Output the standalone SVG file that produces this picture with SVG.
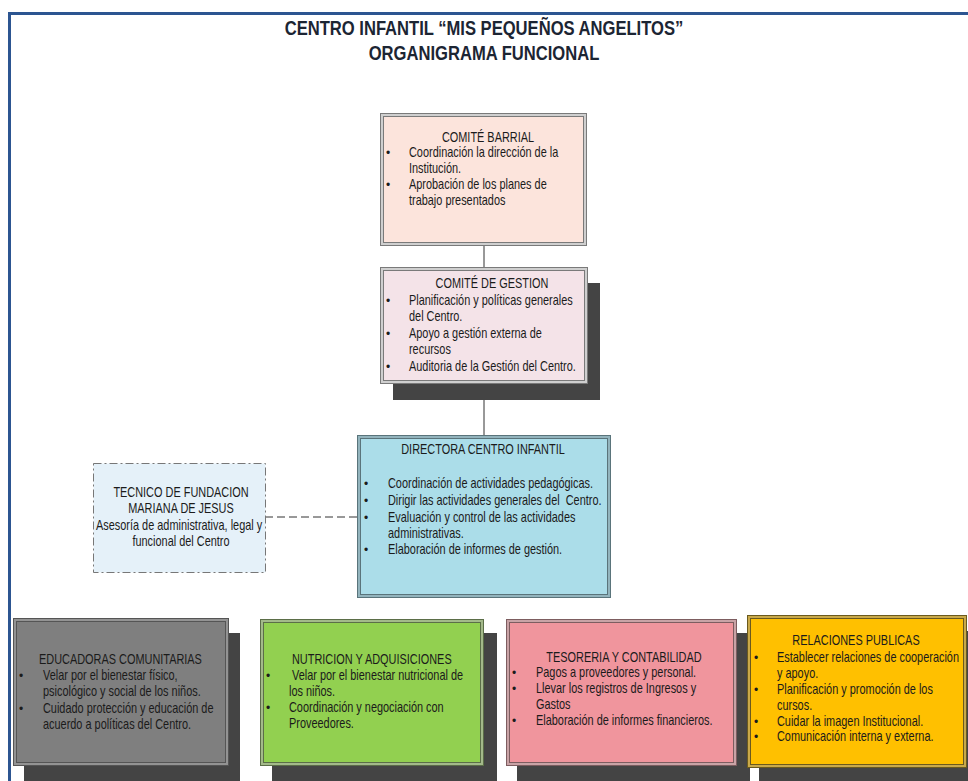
<svg xmlns="http://www.w3.org/2000/svg" width="968" height="781" viewBox="0 0 968 781">
<style>
.t{font-family:"Liberation Sans",Arial,sans-serif;font-size:14px;fill:#1b1b1b;transform-box:fill-box;transform-origin:0 50%;transform:scaleX(0.78)}
.m{text-anchor:middle;transform-origin:50% 50%}
.b{font-family:"Liberation Sans",Arial,sans-serif;font-size:12px;fill:#1b1b1b}
.h{font-family:"Liberation Sans",Arial,sans-serif;font-size:20px;font-weight:bold;fill:#1c2533;text-anchor:middle;transform-box:fill-box;transform-origin:50% 50%;transform:scaleX(0.83)}
.sh{fill:#444444}
.conn{stroke:#333;stroke-width:1;fill:none}
</style>
<rect width="968" height="781" fill="#ffffff"/>
<g id="frame">
<line x1="9.5" y1="13.5" x2="968" y2="13.5" stroke="#2c5591" stroke-width="3"/>
<line x1="9.5" y1="12" x2="9.5" y2="781" stroke="#2c5591" stroke-width="3"/>
</g>
<g id="title">
<text class="h" x="484" y="35">CENTRO INFANTIL “MIS PEQUEÑOS ANGELITOS”</text>
<text class="h" x="484" y="60">ORGANIGRAMA FUNCIONAL</text>
</g>
<g id="connectors">
<line class="conn" x1="484" y1="245" x2="484" y2="267"/>
<line class="conn" x1="484" y1="383" x2="484" y2="435"/>
<line class="conn" x1="265" y1="517" x2="357" y2="517" stroke-dasharray="8,4" stroke="#555"/>
</g>
<g id="comite-barrial">
<rect x="380.5" y="113.5" width="206" height="132" fill="#cfcfcf" stroke="#7a7a7a"/>
<rect x="383.5" y="116.5" width="200" height="126" fill="#fce4dc" stroke="#7a7a7a"/>
<text class="t m" x="488" y="142">COMITÉ BARRIAL</text>
<text class="b" x="386" y="157">•</text>
<text class="b" x="386" y="189">•</text>
<text class="t" x="409" y="157">Coordinación la dirección de la</text>
<text class="t" x="409" y="173">Institución.</text>
<text class="t" x="409" y="189">Aprobación de los planes de</text>
<text class="t" x="409" y="205">trabajo presentados</text>
</g>
<g id="comite-gestion">
<rect class="sh" x="393" y="283" width="207" height="117"/>
<rect x="380.5" y="267.5" width="207" height="116" fill="#cfcfcf" stroke="#7a7a7a"/>
<rect x="383.5" y="270.5" width="201" height="110" fill="#f4e3e8" stroke="#7a7a7a"/>
<text class="t m" x="492" y="288">COMITÉ DE GESTION</text>
<text class="b" x="386" y="305">•</text>
<text class="b" x="386" y="338">•</text>
<text class="b" x="386" y="371">•</text>
<text class="t" x="409" y="305">Planificación y políticas generales</text>
<text class="t" x="409" y="321">del Centro.</text>
<text class="t" x="409" y="338">Apoyo a gestión externa de</text>
<text class="t" x="409" y="354">recursos</text>
<text class="t" x="409" y="371">Auditoria de la Gestión del Centro.</text>
</g>
<g id="directora">
<rect x="357.5" y="435.5" width="253" height="162" fill="#93b4bd" stroke="#5a747b"/>
<rect x="360.5" y="438.5" width="247" height="156" fill="#abdde9" stroke="#5a747b"/>
<text class="t m" x="483" y="454">DIRECTORA CENTRO INFANTIL</text>
<text class="b" x="364" y="488">•</text>
<text class="b" x="364" y="505">•</text>
<text class="b" x="364" y="522">•</text>
<text class="b" x="364" y="554">•</text>
<text class="t" x="388" y="488">Coordinación de actividades pedagógicas.</text>
<text class="t" x="388" y="505" xml:space="preserve">Dirigir las actividades generales del  Centro.</text>
<text class="t" x="388" y="522">Evaluación y control de las actividades</text>
<text class="t" x="388" y="538">administrativas.</text>
<text class="t" x="388" y="554">Elaboración de informes de gestión.</text>
</g>
<g id="tecnico">
<rect x="93.5" y="463.5" width="172" height="109" fill="#e5f1f9" stroke="#777" stroke-dasharray="8,3,2,3"/>
<text class="t m" x="181" y="497">TECNICO DE FUNDACION</text>
<text class="t m" x="181" y="513">MARIANA DE JESUS</text>
<text class="t m" x="179" y="530">Asesoría de administrativa, legal y</text>
<text class="t m" x="181" y="546">funcional del Centro</text>
</g>
<g id="educadoras">
<rect class="sh" x="24" y="633" width="216" height="160"/>
<rect x="13.5" y="618.5" width="215" height="147" fill="#939393" stroke="#555"/>
<rect x="16.5" y="621.5" width="209" height="141" fill="#7f7f7f" stroke="#555"/>
<text class="t" x="39" y="664">EDUCADORAS COMUNITARIAS</text>
<text class="b" x="19" y="680">•</text>
<text class="b" x="19" y="713">•</text>
<text class="t" x="43" y="680">Velar por el bienestar físico,</text>
<text class="t" x="43" y="696">psicológico y social de los niños.</text>
<text class="t" x="43" y="713">Cuidado protección y educación de</text>
<text class="t" x="43" y="729">acuerdo a políticas del Centro.</text>
</g>
<g id="nutricion">
<rect class="sh" x="272" y="633" width="225" height="160"/>
<rect x="260.5" y="619.5" width="223" height="146" fill="#a3b98a" stroke="#5b6e48"/>
<rect x="263.5" y="622.5" width="217" height="140" fill="#92d050" stroke="#5b6e48"/>
<text class="t" x="292" y="664">NUTRICION Y ADQUISICIONES</text>
<text class="b" x="266" y="680">•</text>
<text class="b" x="266" y="712">•</text>
<text class="t" x="289" y="680" xml:space="preserve"> Velar por el bienestar nutricional de</text>
<text class="t" x="289" y="696">los niños.</text>
<text class="t" x="289" y="712">Coordinación y negociación con</text>
<text class="t" x="289" y="728">Proveedores.</text>
</g>
<g id="tesoreria">
<rect class="sh" x="517" y="633" width="233" height="160"/>
<rect x="506.5" y="619.5" width="230" height="146" fill="#c9a3a6" stroke="#7d5d60"/>
<rect x="509.5" y="622.5" width="224" height="140" fill="#f0959d" stroke="#7d5d60"/>
<text class="t m" x="624" y="662">TESORERIA Y CONTABILIDAD</text>
<text class="b" x="512" y="677">•</text>
<text class="b" x="512" y="693">•</text>
<text class="b" x="512" y="725">•</text>
<text class="t" x="536" y="677">Pagos a proveedores y personal.</text>
<text class="t" x="536" y="693">Llevar los registros de Ingresos y</text>
<text class="t" x="536" y="709">Gastos</text>
<text class="t" x="536" y="725">Elaboración de informes financieros.</text>
</g>
<g id="relaciones">
<rect class="sh" x="759" y="631" width="220" height="160"/>
<rect x="747.5" y="615.5" width="219" height="152" fill="#c9a94a" stroke="#6b5a1e"/>
<rect x="750.5" y="618.5" width="213" height="146" fill="#ffc000" stroke="#6b5a1e"/>
<text class="t m" x="856" y="645">RELACIONES PUBLICAS</text>
<text class="b" x="754" y="662">•</text>
<text class="b" x="754" y="694">•</text>
<text class="b" x="754" y="726">•</text>
<text class="b" x="754" y="741">•</text>
<text class="t" x="777" y="662">Establecer relaciones de cooperación</text>
<text class="t" x="777" y="678">y apoyo.</text>
<text class="t" x="777" y="694">Planificación y promoción de los</text>
<text class="t" x="777" y="710">cursos.</text>
<text class="t" x="777" y="726">Cuidar la imagen Institucional.</text>
<text class="t" x="777" y="741">Comunicación interna y externa.</text>
</g>
</svg>
